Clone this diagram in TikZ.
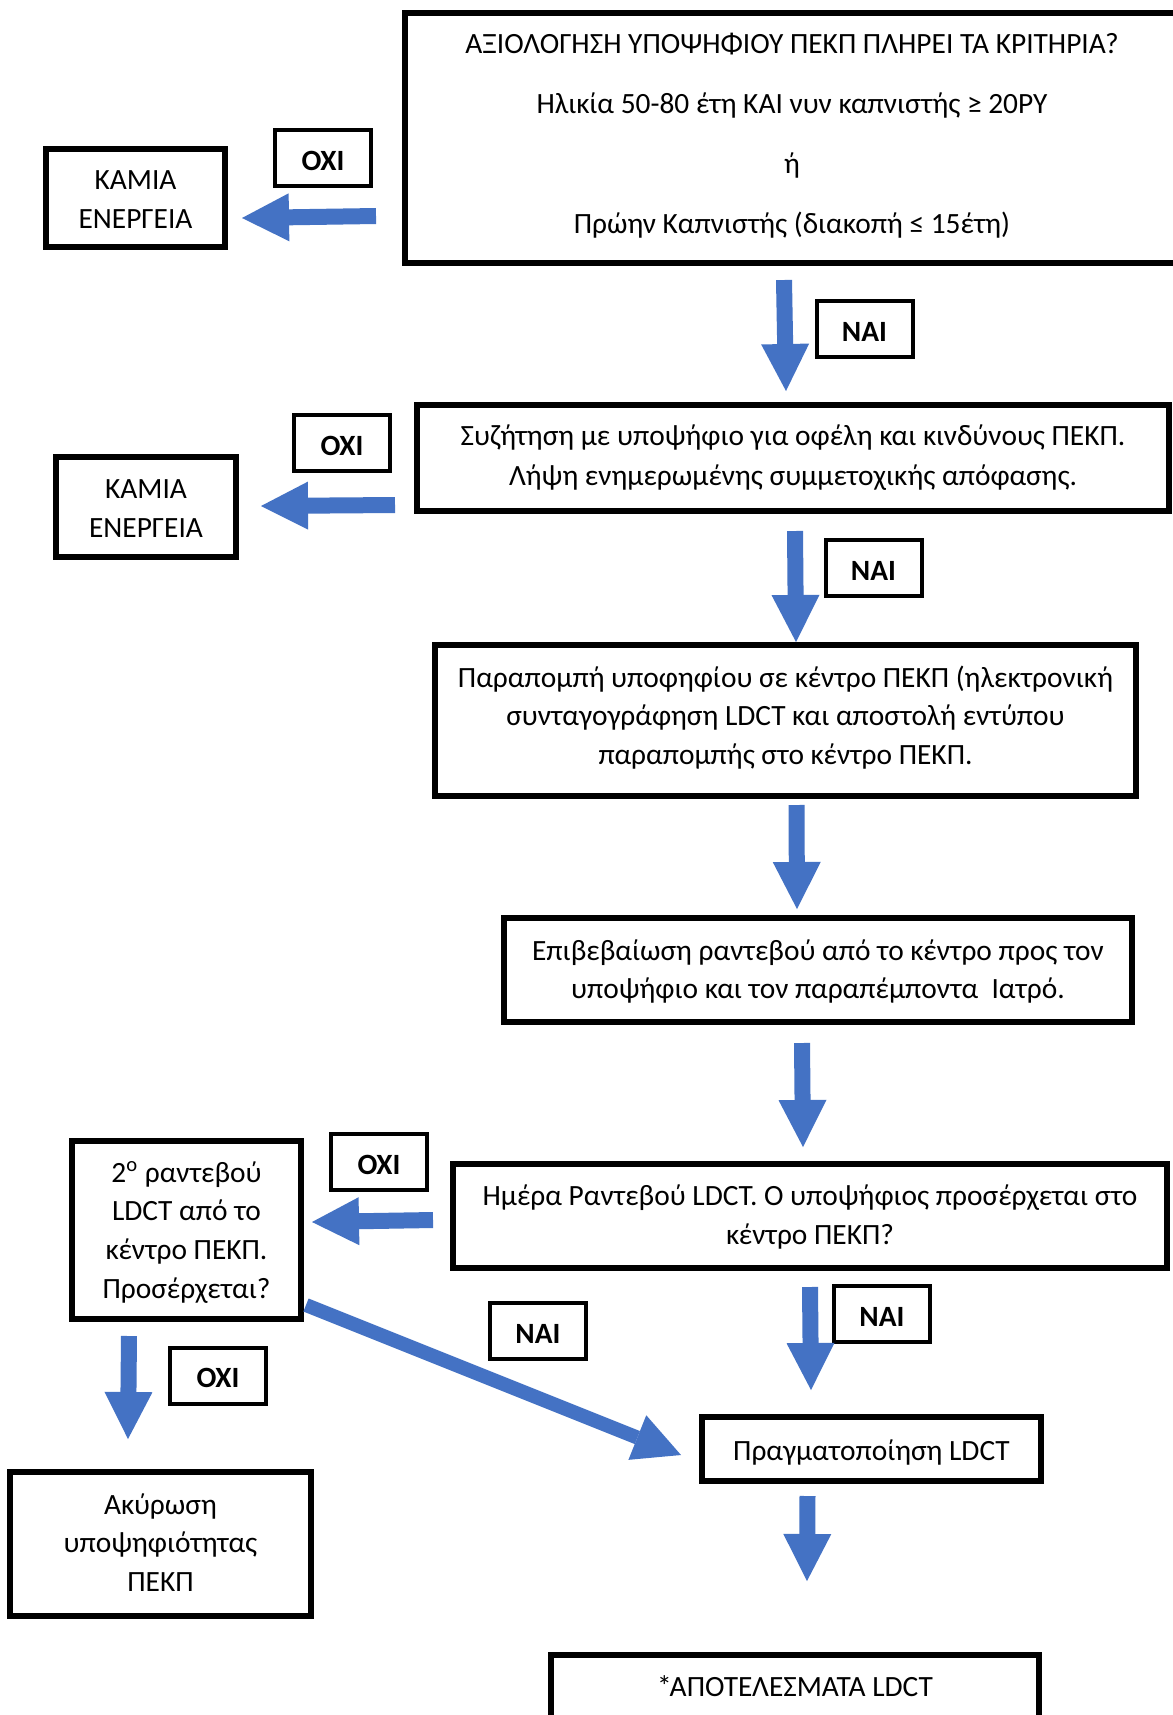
\documentclass[tikz,border=0pt]{standalone}
\usepackage{fontspec}
\setmainfont{Carlito}
\usetikzlibrary{arrows.meta}
\definecolor{arrowblue}{HTML}{4472C4}
\newcommand\mytopstrut[1]{\rule{0pt}{#1}}
\newcommand\mybotstrut[1]{\rule[-#1]{0pt}{#1}}
\begin{document}
\begin{tikzpicture}[x=0.5pt,y=-0.5pt,
  box/.style={draw=black, line width=3pt, inner sep=0pt, align=center, font=\fontsize{14.7pt}{19.3pt}\selectfont},
  lbl/.style={draw=black, line width=2pt, inner sep=0pt, minimum width=48pt, minimum height=28pt, text height=12pt, text depth=0pt, font=\fontsize{14.7pt}{19.3pt}\selectfont\bfseries},
  flow/.style={draw=arrowblue, line width=8pt, line cap=butt, -{Triangle[length=23.5pt,width=24pt,line width=0pt]}}]
\clip (0,0) rectangle (1173,1715);
\fill[white] (0,0) rectangle (1173,1715);

% main boxes
\node[box, minimum width=387pt, minimum height=125pt, font=\fontsize{14.7pt}{30pt}\selectfont] (crit) at (792,138)
  {\mytopstrut{15pt}ΑΞΙΟΛΟΓΗΣΗ ΥΠΟΨΗΦΙΟΥ ΠΕΚΠ ΠΛΗΡΕΙ ΤΑ ΚΡΙΤΗΡΙΑ?\\Ηλικία 50-80 έτη ΚΑΙ νυν καπνιστής ≥ 20PY\\ή\\Πρώην Καπνιστής (διακοπή ≤ 15έτη)\mybotstrut{10pt}};
\node[box, minimum width=376pt, minimum height=53pt, font=\fontsize{14.7pt}{20pt}\selectfont] (disc) at (793,458)
  {\mytopstrut{15pt}Συζήτηση με υποψήφιο για οφέλη και κινδύνους ΠΕΚΠ.\\Λήψη ενημερωμένης συμμετοχικής απόφασης.\mybotstrut{7.5pt}};
\node[box, minimum width=350.5pt, minimum height=75.5pt, font=\fontsize{14.7pt}{19.25pt}\selectfont] (refer) at (785.5,720.5)
  {\mytopstrut{15pt}Παραπομπή υποφηφίου σε κέντρο ΠΕΚΠ (ηλεκτρονική\\συνταγογράφηση LDCT και αποστολή εντύπου\\παραπομπής στο κέντρο ΠΕΚΠ.\mybotstrut{9.8pt}};
\node[box, minimum width=314pt, minimum height=52pt, font=\fontsize{14.7pt}{19pt}\selectfont] (conf) at (818,970)
  {\mytopstrut{15pt}Επιβεβαίωση ραντεβού από το κέντρο προς τον\\υποψήφιο και τον παραπέμποντα\ \ Ιατρό.\mybotstrut{6pt}};
\node[box, minimum width=357pt, minimum height=52pt, font=\fontsize{14.7pt}{19.5pt}\selectfont] (day) at (810,1216)
  {\mytopstrut{15pt}Ημέρα Ραντεβού LDCT. Ο υποψήφιος προσέρχεται στο\\κέντρο ΠΕΚΠ?\mybotstrut{6.3pt}};
\node[box, minimum width=169.5pt, minimum height=32pt] (ldct) at (871.5,1449)
  {\mytopstrut{17pt}Πραγματοποίηση LDCT\mybotstrut{6pt}};
\node[box, anchor=north, minimum width=244pt, text height=20.5pt, text depth=60pt] (res) at (795,1652)
  {*\kern-1pt ΑΠΟΤΕΛΕΣΜΑΤΑ LDCT};
\node[box, minimum width=114.5pt, minimum height=89pt, font=\fontsize{14.7pt}{19.33pt}\selectfont] (second) at (186.5,1230)
  {\mytopstrut{15pt}2\textsuperscript{ο} ραντεβού\\LDCT από το\\κέντρο ΠΕΚΠ.\\Προσέρχεται?\mybotstrut{5pt}};
\node[box, minimum width=150.5pt, minimum height=72pt, font=\fontsize{14.7pt}{19.25pt}\selectfont] (cancel) at (160.5,1544)
  {\mytopstrut{15pt}Ακύρωση\\υποψηφιότητας\\ΠΕΚΠ\mybotstrut{6.2pt}};
\node[box, minimum width=89.5pt, minimum height=49pt, font=\fontsize{14.7pt}{19.5pt}\selectfont] (none1) at (135.5,198)
  {\mytopstrut{15pt}ΚΑΜΙΑ\\ΕΝΕΡΓΕΙΑ\mybotstrut{4.5pt}};
\node[box, minimum width=90pt, minimum height=50pt, font=\fontsize{14.7pt}{19.5pt}\selectfont] (none2) at (146,507)
  {\mytopstrut{15pt}ΚΑΜΙΑ\\ΕΝΕΡΓΕΙΑ\mybotstrut{4.5pt}};

% labels
\node[lbl] (no1) at (323,158) {ΟΧΙ\hspace{4.5pt}};
\node[lbl] (no2) at (342,443) {ΟΧΙ\hspace{4.5pt}};
\node[lbl] (no3) at (379,1162) {ΟΧΙ\hspace{4.5pt}};
\node[lbl] (no4) at (218,1375.5) {ΟΧΙ\hspace{4.5pt}};
\node[lbl] (yes1) at (864.5,329) {ΝΑΙ\hspace{4.5pt}};
\node[lbl] (yes2) at (873.5,568) {ΝΑΙ\hspace{4.5pt}};
\node[lbl] (yes3) at (882,1314) {ΝΑΙ\hspace{4.5pt}};
\node[lbl] (yes4) at (538,1331) {ΝΑΙ\hspace{3pt}};

% arrow end points
\coordinate (a1s) at (376,216);   \coordinate (a1e) at (242,218);
\coordinate (a2s) at (395,505);   \coordinate (a2e) at (261,506);
\coordinate (a3s) at (784,280);   \coordinate (a3e) at (786,391);
\coordinate (a4s) at (795,531);   \coordinate (a4e) at (796,642);
\coordinate (a5s) at (796.5,805); \coordinate (a5e) at (797,909);
\coordinate (a6s) at (802,1043);  \coordinate (a6e) at (803,1147);
\coordinate (a7s) at (433,1220);  \coordinate (a7e) at (312,1222);
\coordinate (a8s) at (810,1287);  \coordinate (a8e) at (811,1390);
\coordinate (a9s) at (306,1305);  \coordinate (a9e) at (681,1455);
\coordinate (a10s) at (129,1336); \coordinate (a10e) at (128,1439);
\coordinate (a11s) at (807.5,1496); \coordinate (a11e) at (807,1581);

\draw[flow] (a1s) -- (a1e);
\draw[flow] (a2s) -- (a2e);
\draw[flow] (a3s) -- (a3e);
\draw[flow] (a4s) -- (a4e);
\draw[flow] (a5s) -- (a5e);
\draw[flow] (a6s) -- (a6e);
\draw[flow] (a7s) -- (a7e);
\draw[flow] (a8s) -- (a8e);
\draw[flow, line width=7pt] (a9s) -- (a9e);
\draw[flow] (a10s) -- (a10e);
\draw[flow] (a11s) -- (a11e);
\end{tikzpicture}
\end{document}
